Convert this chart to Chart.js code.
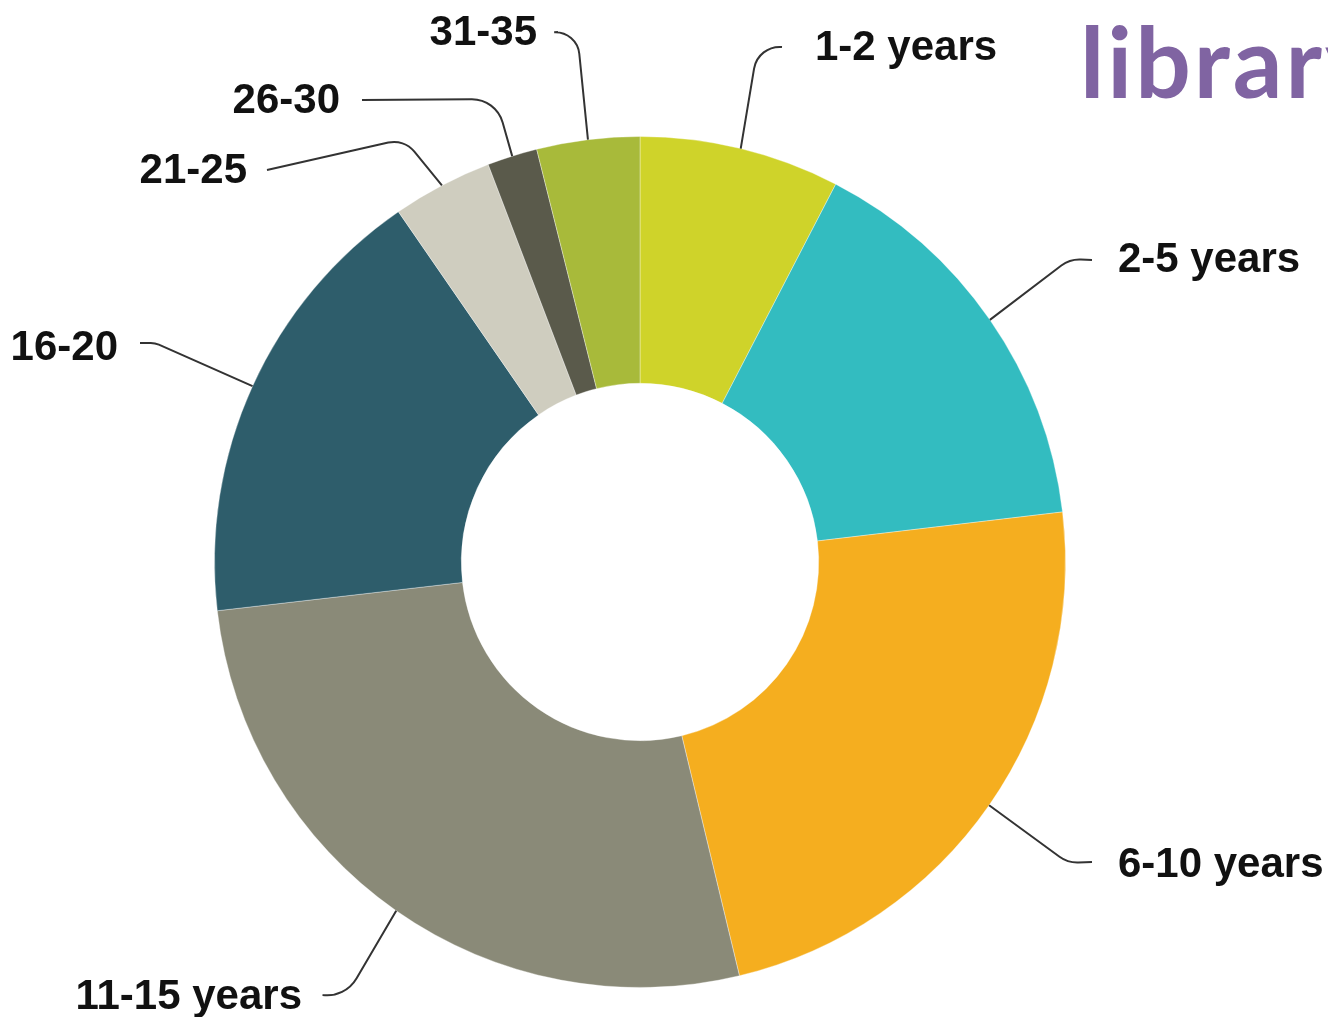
<!DOCTYPE html>
<html>
<head>
<meta charset="utf-8">
<script src="https://cdn.jsdelivr.net/npm/chart.js@4"></script>
<style>
  html, body { margin: 0; padding: 0; background: #fff; overflow: hidden; }
  #wrap { width: 1328px; height: 1017px; position: relative; }
</style>
</head>
<body>
<div id="wrap"><canvas id="tenure-chart" width="1328" height="1017"></canvas></div>
<script>
// ===== tenure donut =====

const labels  = ['1-2 years', '2-5 years', '6-10 years', '11-15 years', '16-20', '21-25', '26-30', '31-35'];
const shares  = [7.6, 15.5, 23.1, 26.9, 17.2, 3.8, 1.9, 3.9];
const colours = ['#cfd32a', '#33bcc0', '#f5ae1f', '#8a8a78', '#2e5d6b', '#cfcdbf', '#5a5a4b', '#a8ba3a'];
const title   = 'library';

// leader line layout: bend point, end point, bend radius, text anchor
const leaders = [
  { cx: 758,  cy: 45,  ex: 782,  ey: 47,  r: 26, tx: 815,  ty: 60,   align: 'left'  },
  { cx: 1070, cy: 259, ex: 1092, ey: 260, r: 30, tx: 1118, ty: 272,  align: 'left'  },
  { cx: 1068, cy: 863, ex: 1092, ey: 862, r: 30, tx: 1118, ty: 877,  align: 'left'  },
  { cx: 345,  cy: 998, ex: 323,  ey: 995, r: 34, tx: 302,  ty: 1009, align: 'right' },
  { cx: 155,  cy: 343, ex: 140,  ey: 343, r: 20, tx: 118,  ty: 360,  align: 'right' },
  { cx: 404,  cy: 139, ex: 267,  ey: 170, r: 26, tx: 247,  ty: 183,  align: 'right' },
  { cx: 496,  cy: 99,  ex: 362,  ey: 100, r: 32, tx: 340,  ty: 113,  align: 'right' },
  { cx: 577,  cy: 31,  ex: 558,  ey: 32,  r: 24, tx: 537,  ty: 45,   align: 'right' },
];

const leaderLabels = {
  id: 'leaderLabels',
  afterDatasetsDraw: function(chart) {
    const ctx  = chart.ctx;
    const arcs = chart.getDatasetMeta(0).data;
    ctx.save();
    arcs.forEach(function(arc, i) {
      const p   = arc.getProps(['x', 'y', 'startAngle', 'endAngle', 'outerRadius'], true);
      const mid = (p.startAngle + p.endAngle) / 2;
      const sx  = p.x + Math.cos(mid) * p.outerRadius;
      const sy  = p.y + Math.sin(mid) * p.outerRadius;
      const L   = leaders[i];

      ctx.beginPath();
      ctx.moveTo(sx, sy);
      ctx.arcTo(L.cx, L.cy, L.ex, L.ey, L.r);
      ctx.lineTo(L.ex, L.ey);
      ctx.strokeStyle = '#333';
      ctx.lineWidth   = 2;
      ctx.stroke();

      ctx.fillStyle    = '#111';
      ctx.font         = 'bold 42px "Liberation Sans", Arial, sans-serif';
      ctx.textAlign    = L.align;
      ctx.textBaseline = 'alphabetic';
      ctx.fillText(labels[i], L.tx, L.ty);
    });

    ctx.fillStyle    = '#8064a2';
    ctx.font         = 'bold 98px Lato, "Open Sans", sans-serif';
    ctx.letterSpacing = '3px';
    ctx.textAlign    = 'left';
    ctx.textBaseline = 'alphabetic';
    ctx.fillText(title, 1080, 98);
    ctx.restore();
  }
};

const chart = new Chart(document.getElementById('tenure-chart').getContext('2d'), {
  type: 'doughnut',
  data: {
    labels: labels,
    datasets: [{
      data: shares,
      backgroundColor: colours,
      borderColor: 'rgba(255,255,255,0.35)',
      borderWidth: 1,
      hoverOffset: 0,
    }]
  },
  options: {
    responsive: false,
    animation: false,
    cutout: '42%',
    layout: { padding: { left: 214, top: 136, right: 262, bottom: 29 } },
    plugins: {
      legend:  { display: false },
      tooltip: { enabled: false }
    }
  },
  plugins: [leaderLabels]
});
</script>
</body>
</html>
